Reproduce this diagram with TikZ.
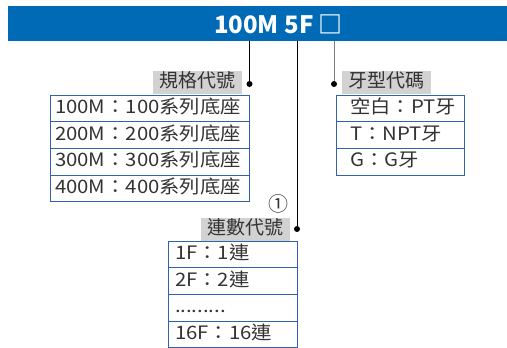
\documentclass[tikz,border=0pt]{standalone}
\usepackage{fontspec}
\setmainfont{Noto Sans CJK TC}
\newfontfamily\cellfont{Noto Sans CJK TC}[FakeStretch=1.1]
\usetikzlibrary{positioning}
\definecolor{barblue}{RGB}{0,106,182}
\definecolor{tblblue}{RGB}{52,96,176}
\definecolor{taggray}{RGB}{210,210,210}
\definecolor{txtgray}{RGB}{51,51,51}

\begin{document}
\begin{tikzpicture}[x=1pt,y=-1pt,
    tag/.style={fill=taggray,text=txtgray,font=\fontsize{19}{19}\selectfont,
      inner xsep=6.5pt,inner ysep=2.5pt,text height=14pt,text depth=4pt},
    cell/.style={draw=tblblue,line width=0.8pt,outer sep=0pt,text=txtgray,
      font=\cellfont\fontsize{18.5}{18.5}\selectfont,align=left,minimum height=26.7pt,
      text height=14pt,text depth=4pt},
    pin/.style={circle,fill=black,inner sep=0pt,minimum size=6pt}]
    \useasboundingbox (0,0) rectangle (507,348);

    % Title bar
    \node[fill=barblue,minimum width=499pt,minimum height=35pt,inner sep=0pt,anchor=north west] (bar) at (8,6) {};
    \node[text=white,font=\fontsize{24}{24}\selectfont\bfseries] (title) at (278.5,24) {100M 5F □};

    % Left group
    \node[pin] (pinA) at (249.5,84) {};
    \node[tag,anchor=south east] (tagA) at (242,94) {規格代號};
    \node[cell,text width=189pt,inner xsep=5pt,anchor=north west] (a1) at (50,95) {100M：100系列底座};
    \node[cell,text width=189pt,inner xsep=5pt,below=0pt of a1] (a2) {200M：200系列底座};
    \node[cell,text width=189pt,inner xsep=5pt,below=0pt of a2] (a3) {300M：300系列底座};
    \node[cell,text width=189pt,inner xsep=5pt,below=0pt of a3] (a4) {400M：400系列底座};

    % Right group
    \node[pin] (pinC) at (334,84) {};
    \node[tag,anchor=south west] (tagC) at (342,94) {牙型代碼};
    \node[cell,text width=100pt,inner xsep=14pt,anchor=north west] (c1) at (336,95) {空白：PT牙};
    \node[cell,text width=100pt,inner xsep=14pt,below=0pt of c1] (c2) {T：NPT牙};
    \node[cell,text width=100pt,inner xsep=14pt,below=0pt of c2] (c3) {G：G牙};

    % Middle group
    \node[pin] (pinB) at (297,229) {};
    \node[text=txtgray,font=\fontsize{20}{20}\selectfont] (note) at (278.5,204) {①};
    \node[tag,anchor=south east] (tagB) at (290,241) {連數代號};
    \node[cell,text width=115pt,inner xsep=7pt,anchor=north west] (b1) at (168,241) {1F：1連};
    \node[cell,text width=115pt,inner xsep=7pt,below=0pt of b1] (b2) {2F：2連};
    \node[cell,text width=115pt,inner xsep=7pt,below=0pt of b2] (b3) {.........};
    \node[cell,text width=115pt,inner xsep=7pt,below=0pt of b3] (b4) {16F：16連};

    % Connections
    \draw[line width=0.8pt] (pinA |- bar.south) -- (pinA);
    \draw[line width=0.8pt] (pinB |- bar.south) -- (pinB);
    \draw[line width=0.8pt,gray] (pinC |- bar.south) -- (pinC);
\end{tikzpicture}
\end{document}
